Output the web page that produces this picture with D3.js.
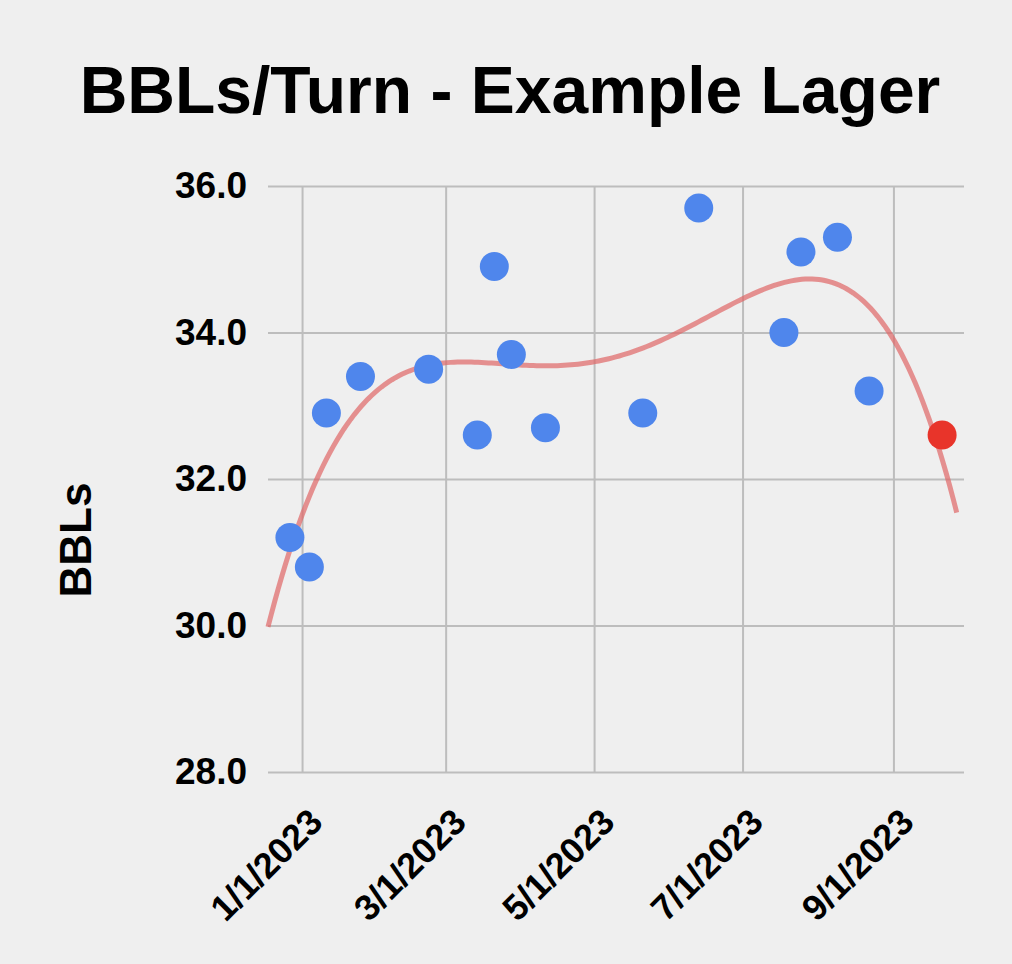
<!DOCTYPE html>
<html><head><meta charset="utf-8">
<script src="https://cdn.jsdelivr.net/npm/d3@7"></script>
<style>html,body{margin:0;padding:0;background:#efefef;} svg{display:block;}</style>
</head><body><svg id="chart" width="1012" height="964"></svg>
<script>
const chartTitle = "BBLs/Turn - Example Lager";
const yAxisTitle = "BBLs";
const turnDates = ["2022-12-27","2023-01-04","2023-01-11","2023-01-25","2023-02-22","2023-03-14","2023-03-21","2023-03-28","2023-04-11","2023-05-21","2023-06-13","2023-07-18","2023-07-25","2023-08-09","2023-08-22"];
const turnBBLs = [31.2,30.8,32.9,33.4,33.5,32.6,34.9,33.7,32.7,32.9,35.7,34.0,35.1,35.3,33.2];
const latestDate = ["2023-09-21"];
const latestBBLs = [32.6];
const xTickDates = ["2023-01-01","2023-03-01","2023-05-01","2023-07-01","2023-09-01"];
const xTickLabels = ["1/1/2023","3/1/2023","5/1/2023","7/1/2023","9/1/2023"];
const yTicks = [28,30,32,34,36];
const xDomain = ["2022-12-18","2023-09-30"];
const yDomain = [28,36];
const trendEnd = "2023-09-27";
const trendDegree = 4;

const parse = d3.utcParse("%Y-%m-%d");
const svg = d3.select("#chart");
const L = 268, R = 964, T = 186, B = 772;
const x = d3.scaleUtc().domain(xDomain.map(parse)).range([L, R]);
const y = d3.scaleLinear().domain(yDomain).range([B, T]);
const font = "'Liberation Sans', Arial, Helvetica, sans-serif";

svg.append("rect").attr("width",1012).attr("height",964).attr("fill","#efefef");

svg.append("text").attr("x",510).attr("y",113).attr("text-anchor","middle")
  .attr("font-family",font).attr("font-weight","bold").attr("font-size",66).attr("fill","#000").text(chartTitle);

// grid + y axis
const yAxis = d3.axisLeft(y).tickValues(yTicks).tickSize(-(R-L)).tickPadding(21).tickFormat(d3.format(".1f"));
const gy = svg.append("g").attr("transform",`translate(${L},0)`).call(yAxis);
gy.select(".domain").remove();
gy.selectAll(".tick line").attr("stroke","#bdbdbd").attr("stroke-width",2);
gy.selectAll(".tick text").attr("font-family",font).attr("font-weight","bold").attr("font-size",37).attr("fill","#000");

// grid + x axis
const xAxis = d3.axisBottom(x).tickValues(xTickDates.map(parse)).tickSize(-(B-T)).tickFormat((d,i)=>xTickLabels[i]);
const gx = svg.append("g").attr("transform",`translate(0,${B})`).call(xAxis);
gx.select(".domain").remove();
gx.selectAll(".tick line").attr("stroke","#bdbdbd").attr("stroke-width",2);
gx.selectAll(".tick text").attr("font-family",font).attr("font-weight","bold").attr("font-size",36).attr("fill","#000")
  .attr("text-anchor","end").attr("dy",null).attr("y",null)
  .attr("transform","translate(22,52) rotate(-45)");

svg.append("text").attr("transform","translate(91,540) rotate(-90)").attr("text-anchor","middle")
  .attr("font-family",font).attr("font-weight","bold").attr("font-size",44).attr("fill","#000").text(yAxisTitle);

// polynomial trendline (least squares over all points)
const allDays = turnDates.concat(latestDate).map(parse);
const allVals = turnBBLs.concat(latestBBLs);
const t0 = +allDays[0], sc = 86400000*100;
function fit(deg){
  const n = deg+1;
  const A = Array.from({length:n},()=>new Array(n+1).fill(0));
  allDays.forEach((d,k)=>{
    const t = (+d - t0)/sc;
    const pw = []; for(let i=0;i<=2*deg;i++) pw.push(Math.pow(t,i));
    for(let i=0;i<n;i++){ for(let j=0;j<n;j++) A[i][j]+=pw[i+j]; A[i][n]+=pw[i]*allVals[k]; }
  });
  for(let c=0;c<n;c++){
    let p=c; for(let r=c+1;r<n;r++) if(Math.abs(A[r][c])>Math.abs(A[p][c])) p=r;
    [A[c],A[p]]=[A[p],A[c]];
    for(let r=0;r<n;r++){ if(r===c) continue; const f=A[r][c]/A[c][c]; for(let k=c;k<=n;k++) A[r][k]-=f*A[c][k]; }
  }
  const coef = A.map((row,i)=>row[n]/row[i]);
  return d=>{const t=(+d-t0)/sc; let s=0; for(let i=n-1;i>=0;i--) s=s*t+coef[i]; return s;};
}
const start = parse(xDomain[0]), end = parse(trendEnd);
const f = fit(trendDegree);
const samples = d3.range(0,201).map(i=>{const d=new Date(+start + (+end-+start)*i/200); return {d, v:f(d)};});
svg.append("path").datum(samples)
  .attr("d", d3.line().x(d=>x(d.d)).y(d=>y(d.v)))
  .attr("fill","none").attr("stroke","#e06666").attr("stroke-width",5).attr("stroke-opacity",0.7);

svg.append("g").selectAll("circle").data(turnDates.map((d,i)=>({d:parse(d),v:turnBBLs[i]})))
  .join("circle").attr("cx",d=>x(d.d)).attr("cy",d=>y(d.v)).attr("r",14.5).attr("fill","#4f86ec");
svg.append("g").selectAll("circle").data(latestDate.map((d,i)=>({d:parse(d),v:latestBBLs[i]})))
  .join("circle").attr("cx",d=>x(d.d)).attr("cy",d=>y(d.v)).attr("r",14.5).attr("fill","#e8342a");
</script></body></html>
